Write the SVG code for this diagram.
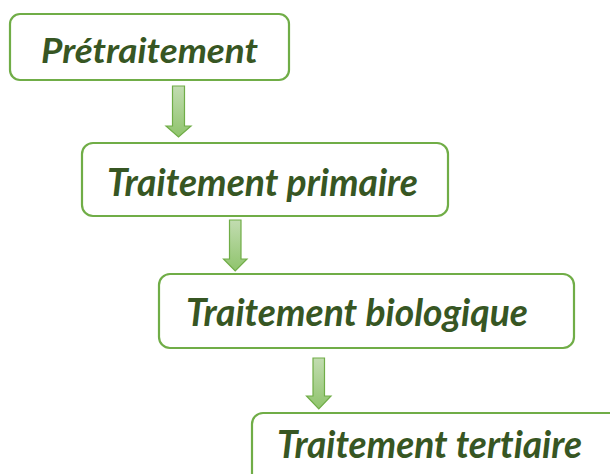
<svg xmlns="http://www.w3.org/2000/svg" width="610" height="474" viewBox="0 0 610 474">
<defs>
<linearGradient id="ag" x1="0" y1="0" x2="0" y2="1">
<stop offset="0" stop-color="#c2dcb1"/>
<stop offset="1" stop-color="#8fc46c"/>
</linearGradient>
<style>
.box{fill:#ffffff;stroke:#70ad47;stroke-width:2.2}
.lbl{font-family:Lato,"Liberation Sans",sans-serif;font-weight:bold;font-style:italic;fill:#375623;font-variant-ligatures:none;font-feature-settings:"liga" 0}
.arr{fill:url(#ag);stroke:#70ad47;stroke-width:1.2}
</style>
</defs>
<rect width="610" height="474" fill="#ffffff"/>
<g id="connectors">
<path class="arr" d="M172.5,86 H184.5 V126 H191 L178.5,137 L166,126 H172.5 Z"/>
<path class="arr" d="M229.5,220 H241 V259 H247 L235.2,271 L223.5,259 H229.5 Z"/>
<path class="arr" d="M313,358 H324.5 V396 H331 L318.8,409 L306.5,396 H313 Z"/>
</g>
<g id="n1">
<rect class="box" x="10" y="14" width="279" height="66" rx="10"/>
<text class="lbl" x="41" y="63" font-size="34" textLength="217" lengthAdjust="spacingAndGlyphs">Prétraitement</text>
</g>
<g id="n2">
<rect class="box" x="82" y="143" width="366" height="73" rx="11"/>
<text class="lbl" x="107" y="196" font-size="38" textLength="311" lengthAdjust="spacingAndGlyphs">Traitement primaire</text>
</g>
<g id="n3">
<rect class="box" x="159" y="274" width="415" height="74" rx="11"/>
<text class="lbl" x="186" y="326" font-size="38" textLength="342" lengthAdjust="spacingAndGlyphs">Traitement biologique</text>
</g>
<g id="n4">
<rect class="box" x="252" y="413" width="380" height="80" rx="11"/>
<text class="lbl" x="277" y="458" font-size="38" textLength="305" lengthAdjust="spacingAndGlyphs">Traitement tertiaire</text>
</g>
</svg>
